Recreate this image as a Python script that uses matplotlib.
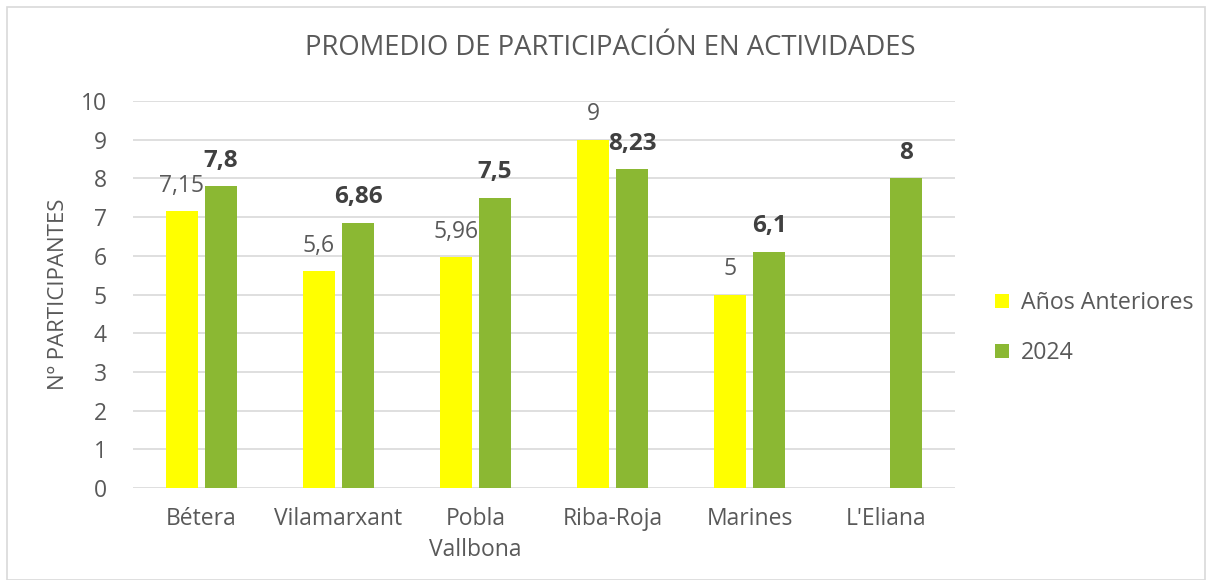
import numpy as np
import matplotlib.pyplot as plt
from matplotlib.patches import Rectangle

plt.rcParams['font.family'] = ['Open Sans', 'DejaVu Sans']

municipios = ["Bétera", "Vilamarxant", "Pobla\nVallbona", "Riba-Roja", "Marines", "L'Eliana"]
anteriores = [7.15, 5.6, 5.96, 9, 5, np.nan]
actual = [7.8, 6.86, 7.5, 8.23, 6.1, 8]
etq_anteriores = ["7,15", "5,6", "5,96", "9", "5", ""]
etq_actual = ["7,8", "6,86", "7,5", "8,23", "6,1", "8"]

gris = "#595959"
amarillo = "#ffff00"
verde = "#8bb833"

fig = plt.figure(figsize=(12.13, 5.8), dpi=100)
fig.patches.append(Rectangle((7/1213, 0.0), 1198/1213, 573/580, transform=fig.transFigure,
                             fill=False, edgecolor="#d9d9d9", linewidth=1.2))
ax = fig.add_axes([133/1213, 1 - 488/580, 822/1213, 387/580])

x = np.arange(len(municipios))
w = 0.23
ax.bar(x - 0.143, anteriores, w, color=amarillo, label="Años Anteriores", zorder=3)
ax.bar(x + 0.143, actual, w, color=verde, label="2024", zorder=3)

# etiquetas de valor encima de cada barra
for i in range(len(x)):
    if not np.isnan(anteriores[i]):
        ax.annotate(etq_anteriores[i], (x[i] - 0.143, anteriores[i]), xytext=(0, 14),
                    textcoords="offset points", ha="center", va="baseline",
                    fontsize=16.5, color=gris)
    ax.annotate(etq_actual[i], (x[i] + 0.143, actual[i]), xytext=(0, 14),
                textcoords="offset points", ha="center", va="baseline",
                fontsize=17.5, color="#404040", fontweight="bold")

ax.set_xlim(-0.5, len(x) - 0.5)
ax.set_ylim(0, 10)
ax.set_yticks(range(0, 11))
ax.set_xticks(x)
ax.set_xticklabels(municipios, linespacing=1.35)
ax.tick_params(axis="both", length=0, labelsize=16.5, labelcolor=gris)
ax.tick_params(axis="x", pad=14)
ax.tick_params(axis="y", pad=19)
ax.grid(axis="y", color="#d9d9d9", linewidth=1.2, zorder=0)
for s in ax.spines.values():
    s.set_visible(False)

ax.set_ylabel("Nº PARTICIPANTES", fontsize=16, color=gris, labelpad=8)
fig.text(610/1213, 1 - 48/580, "PROMEDIO DE PARTICIPACIÓN EN ACTIVIDADES", ha="center", va="center",
         fontsize=19.8, color=gris)

ax.legend(loc="center left", bbox_to_anchor=(1.049, 0.413), frameon=False, fontsize=16.7,
          labelcolor=gris, handlelength=0.6, handleheight=0.6, handletextpad=0.5,
          labelspacing=1.12, borderpad=0, borderaxespad=0)

fig.savefig("out.png", dpi=100)
